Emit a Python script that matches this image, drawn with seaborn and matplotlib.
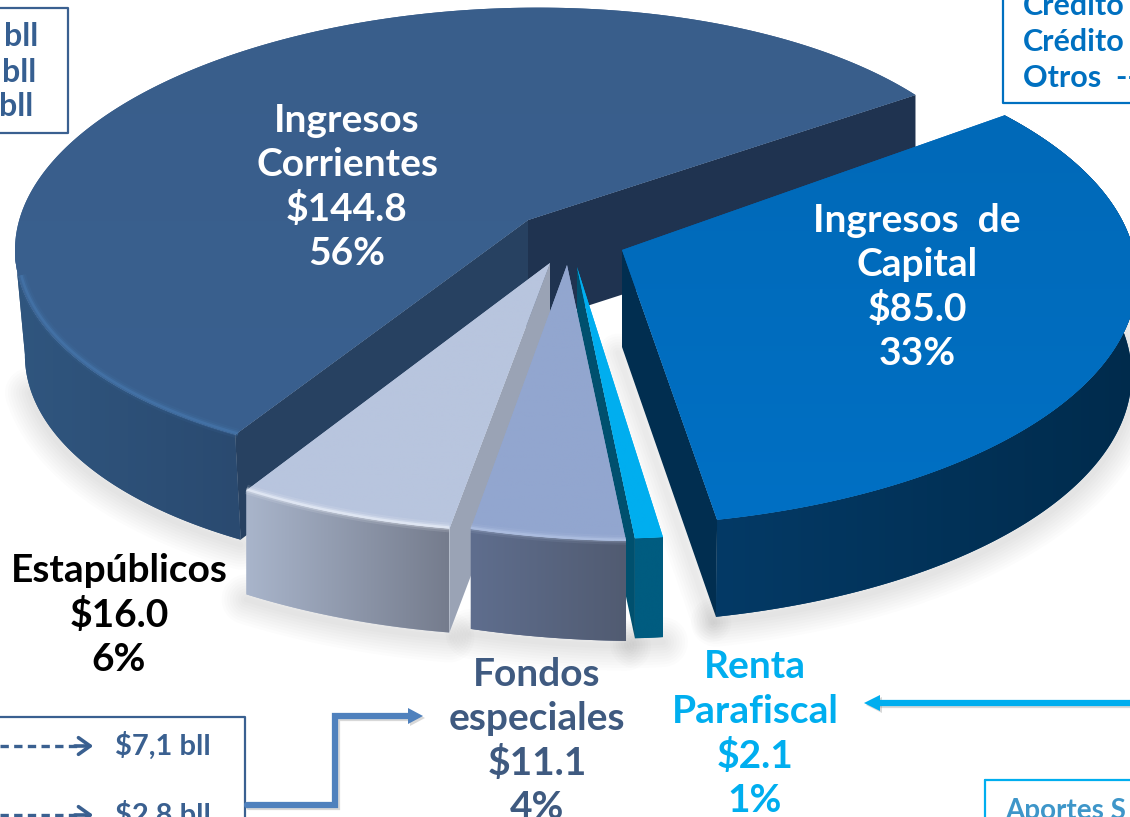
import numpy as np
import matplotlib
matplotlib.use("Agg")
import matplotlib.pyplot as plt
import seaborn as sns

# slices, in drawing order round the pie
names = ["Ingresos\nCorrientes", "Estapúblicos", "Fondos\nespeciales", "Renta\nParafiscal", "Ingresos  de\nCapital"]
values = [144.8, 16.0, 11.1, 2.1, 85.0]

top_low = ["#39608f", "#b8c5de", "#92a6cf", "#00aeef", "#0070c4"]
top_high = ["#3a5e8b", "#b8c5de", "#92a6cf", "#00aeef", "#0069b8"]
rim_left = ["#30567f", "#a9b5cb", "#5f6e8e", "#005c80", "#043a66"]
rim_right = ["#2a4a70", "#757c8d", "#515b71", "#005c80", "#002b4c"]
wall_colors = ["#274161", "#9aa3b5", "#515b71", "#00506e", "#012e50"]
shine_colors = ["#4a7fb8", "#f2f6fd", "#c3d2ee", "#00aeef", "#0070c4"]
shine = [0.8, 1.0, 0.7, 0.0, 0.0]
label_colors = ["white", "black", "#3f5a80", "#00aeef", "white"]

# how each slice sits on the page: apex, ellipse centre, radii, tilt, angle shift, depth
apex = [(528, 220), (550, 263), (567, 265), (577, 267), (622, 250)]
centre = [(510, 237), (536, 243), (641, 261), (597, 269), (597, 278)]
radii = [(495, 229), (560, 289), (586, 280), (553, 270), (540, 248)]
tilt = [13, 0, 0, 0, 0]
shift = [0, 2.6, -5.4, 0, 6]
depth = [105, 104, 100, 100, 97]
rim_scale = [0.98, 1, 1, 1, 0.99]
label_pos = [(347, 120), (119, 571), (537, 674), (755, 667), (917, 220)]

sns.set_theme(style="white")
plt.rcParams["font.family"] = ["Lato", "DejaVu Sans"]
LINE = 44.4
FS = 28

fig = plt.figure(figsize=(11.3, 8.17), dpi=100)
ax = fig.add_axes([0, 0, 1, 1])

total = sum(values)
ends = 35 + np.cumsum(values) / total * 360
starts = np.r_[35, ends[:-1]]


def arc(i, t0, t1):
    t = np.radians(np.linspace(t0 + shift[i], t1 + shift[i], 240))
    cx, cy = centre[i]
    rx, ry = radii[i]
    return cx + rx * np.cos(t), cy - ry * np.sin(t) - tilt[i] * np.cos(t)


def lower(i, x):
    cx = centre[i][0]
    return cx + (x - cx) * rim_scale[i]


def grad_fill(xs, ys, c0, c1, z, vertical=False):
    poly = ax.fill(xs, ys, color=c0, lw=0, zorder=z)[0]
    grad = np.linspace(0, 1, 256).reshape(-1, 1) if vertical else np.linspace(0, 1, 256).reshape(1, -1)
    cmap = sns.blend_palette([c0, c1], as_cmap=True)
    im = ax.imshow(grad, extent=[xs.min(), xs.max(), ys.max(), ys.min()], cmap=cmap, aspect="auto", zorder=z)
    im.set_clip_path(poly)


# soft shadow under the slices
for i in range(5):
    x, y = arc(i, starts[i], ends[i])
    xb = lower(i, x)
    keep = (y > 280) if i == 0 else np.ones(len(x), bool)
    for w in range(4, 40, 4):
        ax.plot(xb[keep], y[keep] + depth[i] + 5, color="black", alpha=0.011, lw=w, zorder=1, solid_capstyle="round")
    if i == 4:
        for w in range(4, 32, 4):
            ax.plot([apex[i][0] - 4, xb[0] - 4], [apex[i][1] + depth[i] + 6, y[0] + depth[i] + 6],
                    color="black", alpha=0.011, lw=w, zorder=1)

# back to front
order = [0, 4, 3, 1, 2]
for n, i in enumerate(order):
    z = 2 + n * 3
    x, y = arc(i, starts[i], ends[i])
    xb = lower(i, x)
    d = depth[i]
    ap = apex[i]

    # outer rim, the big slice only from its leftmost point round the front
    s = np.argmin(x) if i == 0 else 0
    grad_fill(np.r_[x[s:], xb[s:][::-1]], np.r_[y[s:], y[s:][::-1] + d], rim_left[i], rim_right[i], z)

    # cut faces
    if i == 0:
        ax.fill([ap[0], x[0], x[0], ap[0]], [ap[1], y[0], y[0] + d, ap[1] + d], color="#1f3350", lw=0, zorder=z)
        ax.fill([ap[0], x[-1], xb[-1], ap[0]], [ap[1], y[-1], y[-1] + d, ap[1] + d],
                color=wall_colors[i], lw=0, zorder=z + 0.5)
    elif i in (3, 4):
        ax.fill([ap[0], x[0], xb[0], ap[0]], [ap[1], y[0], y[0] + d, ap[1] + d],
                color=wall_colors[i], lw=0, zorder=z + 0.5)
    elif i == 1:
        ax.fill([ap[0], x[-1], x[-1], ap[0]], [ap[1], y[-1], y[-1] + d, ap[1] + d],
                color=wall_colors[i], lw=0, zorder=z + 0.5)

    # top face
    grad_fill(np.r_[ap[0], x], np.r_[ap[1], y], top_high[i], top_low[i], z + 1, vertical=True)

    # bright bevel along the front edge
    if shine[i] > 0:
        front = (y > 275) if i == 0 else np.ones(len(x), bool)
        for w, a in [(7, 0.12), (4, 0.25), (1.8, 0.5)]:
            ax.plot(x[front] + (3 if i == 0 else 0), y[front] - 1, color=shine_colors[i], alpha=a * shine[i], lw=w,
                    zorder=z + 1.5, solid_capstyle="butt")

# slice labels
for i, name in enumerate(names):
    pct = values[i] / total * 100
    lines = name.split("\n") + [f"${values[i]:.1f}", f"{pct:.0f}%"]
    px, py = label_pos[i]
    for k, line in enumerate(lines):
        ax.text(px, py + k * LINE, line, color=label_colors[i], fontsize=FS, fontweight="bold",
                ha="center", va="center", zorder=40)

# side boxes, cut by the page edge
ax.plot([0, 68, 68, 0], [8, 8, 133, 133], color="#3a6090", lw=1.6, zorder=30)
for y, off in zip([36, 72, 106], [38, 36, 33]):
    ax.text(off, y, "bll", color="#365f91", fontsize=23, fontweight="bold", ha="right", va="center", zorder=40)

ax.plot([1130, 1003, 1003], [103, 103, 0], color="#0070c0", lw=1.6, zorder=30)
for y, s in zip([6, 42, 78], ["Crédito", "Crédito", "Otros  --"]):
    ax.text(1023, y, s, color="#0070c0", fontsize=22, fontweight="bold", ha="left", va="center", zorder=40)

ax.plot([0, 245, 245], [717, 717, 817], color="#3a6090", lw=1.6, zorder=30)
for y, s in zip([746, 815], ["$7,1 bll", "$2,8 bll"]):
    ax.plot([0, 78], [y, y], color="#3a6090", lw=2.4, ls=(0, (2.5, 1.6)), zorder=30)
    ax.annotate("", xy=(96, y), xytext=(72, y),
                arrowprops=dict(arrowstyle="->,head_length=0.7,head_width=0.5", color="#3a6090", lw=2.6))
    ax.text(115, y, s, color="#3a6090", fontsize=21, fontweight="bold", ha="left", va="center", zorder=40)

ax.plot([985, 985], [817, 780], color="#00aeef", lw=1.6, zorder=30)
ax.plot([985, 1130], [780, 780], color="#00aeef", lw=1.6, zorder=30)
ax.text(1005, 811, "Aportes S", color="#3e96c9", fontsize=20, fontweight="bold", ha="left", va="center", zorder=40)

# connector arrows with a small shadow
for off, col, a in [(2, "#808080", 0.3), (0, "#4f81bd", 1)]:
    ax.plot(np.array([247, 335, 335, 408]) + off, np.array([805, 805, 716, 716]) + off, color=col, alpha=a, lw=4.5,
            solid_joinstyle="miter", zorder=31)
    ax.fill(np.array([408, 423, 408]) + off, np.array([708, 716, 724]) + off, color=col, alpha=a, lw=0, zorder=31)
    c2 = "#00aeef" if off == 0 else col
    ax.plot(np.array([1130, 880]) + off, np.array([703, 703]) + off, color=c2, alpha=a, lw=4.5, zorder=31)
    ax.fill(np.array([880, 864, 880]) + off, np.array([695, 703, 711]) + off, color=c2, alpha=a, lw=0, zorder=31)

ax.set_xlim(0, 1130)
ax.set_ylim(817, 0)
ax.axis("off")
fig.savefig("out.png", dpi=100, facecolor="white")
